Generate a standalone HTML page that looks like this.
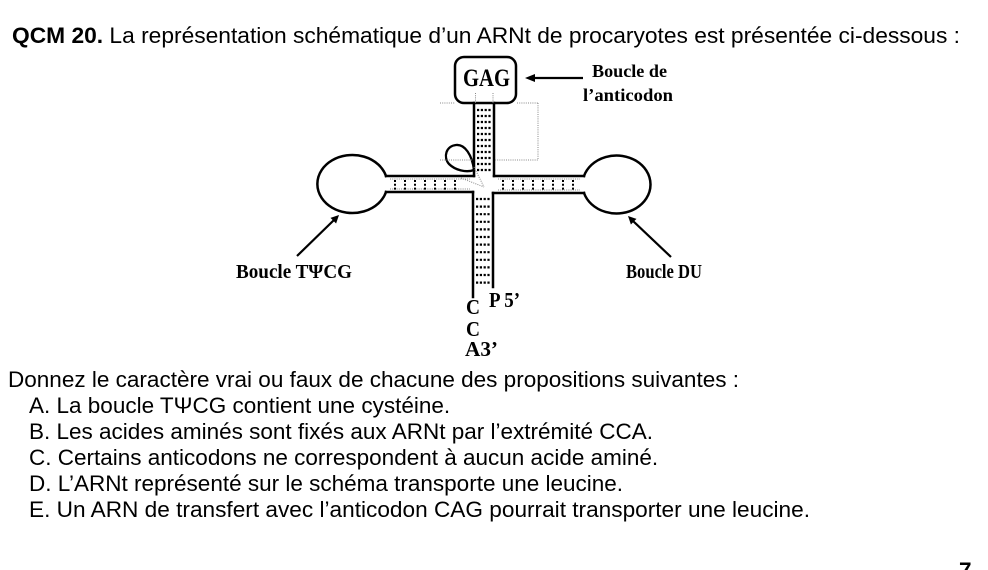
<!DOCTYPE html>
<html>
<head>
<meta charset="utf-8">
<style>
  html, body { margin:0; padding:0; background:#fff; }
  svg { display:block; }
  .sans { font-family: "Liberation Sans", Arial, sans-serif; font-size:22.5px; fill:#000; }
  .serif { font-family: "Liberation Serif", "Times New Roman", serif; font-weight:bold; fill:#000; }
</style>
</head>
<body>
<svg width="988" height="570" viewBox="0 0 988 570" xmlns="http://www.w3.org/2000/svg">
  <rect x="0" y="0" width="988" height="570" fill="#fff"/>

  <!-- Title line -->
  <text class="sans" x="12" y="43" textLength="948" lengthAdjust="spacingAndGlyphs"><tspan font-weight="bold">QCM 20.</tspan> La représentation schématique d’un ARNt de procaryotes est présentée ci-dessous :</text>

  <!-- ===== Diagram ===== -->
  <g fill="none" stroke="#000" stroke-width="2.5" stroke-linecap="square">
    <!-- anticodon loop box -->
    <rect x="455" y="57" width="61" height="46" rx="9" ry="9" fill="#fff"/>
    <!-- upper stem -->
    <line x1="474" y1="103" x2="474" y2="176"/>
    <line x1="494" y1="103" x2="494" y2="176"/>
    <!-- left arm -->
    <line x1="386" y1="176" x2="474" y2="176"/>
    <line x1="386" y1="192" x2="473" y2="192"/>
    <!-- right arm -->
    <line x1="494" y1="176" x2="584" y2="176"/>
    <line x1="493" y1="193" x2="584" y2="193"/>
    <!-- lower stem -->
    <line x1="473" y1="192" x2="473" y2="297"/>
    <line x1="493" y1="193" x2="493" y2="287"/>
    <!-- left loop -->
    <path d="M386 176 A35 29 0 1 0 386 192"/>
    <!-- right loop -->
    <path d="M584 176 A34 29 0 1 1 584 193"/>
    <!-- variable loop -->
    <path d="M474 170 C472 155 465 144 456 145 C446 146 443 157 449 164 C455 170 466 173 474 170" stroke-width="2.3"/>
  </g>

  <!-- gray dotted guide lines -->
  <g fill="none" stroke="#888" stroke-width="1" stroke-dasharray="1 1.2">
    <line x1="440" y1="103" x2="455" y2="103"/>
    <line x1="517" y1="103" x2="538" y2="103"/>
    <line x1="538" y1="103" x2="538" y2="160"/>
    <line x1="495" y1="160" x2="538" y2="160"/>
    <line x1="440" y1="160" x2="473" y2="160"/>
    <line x1="475.5" y1="93" x2="475.5" y2="103"/>
    <line x1="493" y1="93" x2="493" y2="103"/>
    <line x1="461" y1="178" x2="484" y2="187"/>
    <line x1="474" y1="167" x2="484" y2="187"/>
    <line x1="390" y1="179" x2="470" y2="179"/>
    <line x1="390" y1="189" x2="470" y2="189"/>
    <line x1="498" y1="179" x2="580" y2="179"/>
    <line x1="498" y1="190" x2="580" y2="190"/>
  </g>

  <!-- base pair dots: upper stem rows -->
  <g stroke="#000" stroke-width="2.2" stroke-dasharray="2.2 1.6">
    <line x1="477" y1="110" x2="492" y2="110"/>
    <line x1="477" y1="116" x2="492" y2="116"/>
    <line x1="477" y1="122" x2="492" y2="122"/>
    <line x1="477" y1="128" x2="492" y2="128"/>
    <line x1="477" y1="134" x2="492" y2="134"/>
    <line x1="477" y1="140" x2="492" y2="140"/>
    <line x1="477" y1="146" x2="492" y2="146"/>
    <line x1="477" y1="152" x2="492" y2="152"/>
    <line x1="477" y1="158" x2="492" y2="158"/>
    <line x1="477" y1="164" x2="492" y2="164"/>
    <line x1="477" y1="170" x2="492" y2="170"/>
  </g>
  <!-- lower stem rows -->
  <g stroke="#000" stroke-width="2.2" stroke-dasharray="2.2 1.6">
    <line x1="476" y1="199" x2="491" y2="199"/>
    <line x1="476" y1="206.6" x2="491" y2="206.6"/>
    <line x1="476" y1="214.2" x2="491" y2="214.2"/>
    <line x1="476" y1="221.8" x2="491" y2="221.8"/>
    <line x1="476" y1="229.4" x2="491" y2="229.4"/>
    <line x1="476" y1="237" x2="491" y2="237"/>
    <line x1="476" y1="244.6" x2="491" y2="244.6"/>
    <line x1="476" y1="252.2" x2="491" y2="252.2"/>
    <line x1="476" y1="259.8" x2="491" y2="259.8"/>
    <line x1="476" y1="267.4" x2="491" y2="267.4"/>
    <line x1="476" y1="275" x2="491" y2="275"/>
    <line x1="476" y1="282.6" x2="491" y2="282.6"/>
  </g>
  <!-- arm columns -->
  <g stroke="#000" stroke-width="2" stroke-dasharray="2 1.8">
    <line x1="395" y1="180" x2="395" y2="190"/>
    <line x1="405" y1="180" x2="405" y2="190"/>
    <line x1="415" y1="180" x2="415" y2="190"/>
    <line x1="425" y1="180" x2="425" y2="190"/>
    <line x1="435" y1="180" x2="435" y2="190"/>
    <line x1="445" y1="180" x2="445" y2="190"/>
    <line x1="455" y1="180" x2="455" y2="190"/>
    <line x1="503" y1="180" x2="503" y2="190"/>
    <line x1="513" y1="180" x2="513" y2="190"/>
    <line x1="523" y1="180" x2="523" y2="190"/>
    <line x1="533" y1="180" x2="533" y2="190"/>
    <line x1="543" y1="180" x2="543" y2="190"/>
    <line x1="553" y1="180" x2="553" y2="190"/>
    <line x1="563" y1="180" x2="563" y2="190"/>
    <line x1="573" y1="180" x2="573" y2="190"/>
  </g>

  <!-- arrows -->
  <g stroke="#000" stroke-width="2.2">
    <line x1="534" y1="78" x2="583" y2="78"/>
    <line x1="297" y1="256" x2="334" y2="220"/>
    <line x1="671" y1="257" x2="633" y2="221"/>
  </g>
  <g fill="#000">
    <polygon points="525,78 535,74 535,82"/>
    <polygon points="339,215 336.1,223.5 330.5,217.9"/>
    <polygon points="628,216 636.5,218.9 630.9,224.5"/>
  </g>

  <!-- diagram labels -->
  <text class="serif" x="463" y="86" font-size="25" textLength="47" lengthAdjust="spacingAndGlyphs">GAG</text>
  <text class="serif" x="592" y="77" font-size="18" textLength="75" lengthAdjust="spacingAndGlyphs">Boucle de</text>
  <text class="serif" x="583" y="101" font-size="18" textLength="90" lengthAdjust="spacingAndGlyphs">l’anticodon</text>
  <text class="serif" x="236" y="278" font-size="20" textLength="116" lengthAdjust="spacingAndGlyphs">Boucle TΨCG</text>
  <text class="serif" x="626" y="278" font-size="20" textLength="76" lengthAdjust="spacingAndGlyphs">Boucle DU</text>
  <text class="serif" x="466" y="314" font-size="21" textLength="14" lengthAdjust="spacingAndGlyphs">C</text>
  <text class="serif" x="489" y="307" font-size="21" textLength="31" lengthAdjust="spacingAndGlyphs">P 5’</text>
  <text class="serif" x="466" y="336" font-size="21" textLength="14" lengthAdjust="spacingAndGlyphs">C</text>
  <text class="serif" x="465" y="356" font-size="21" textLength="33" lengthAdjust="spacingAndGlyphs">A3’</text>

  <!-- questions -->
  <text class="sans" x="8" y="387" textLength="731" lengthAdjust="spacingAndGlyphs">Donnez le caractère vrai ou faux de chacune des propositions suivantes :</text>
  <text class="sans" x="29" y="413">A. La boucle TΨCG contient une cystéine.</text>
  <text class="sans" x="29" y="439">B. Les acides aminés sont fixés aux ARNt par l’extrémité CCA.</text>
  <text class="sans" x="29" y="465">C. Certains anticodons ne correspondent à aucun acide aminé.</text>
  <text class="sans" x="29" y="491">D. L’ARNt représenté sur le schéma transporte une leucine.</text>
  <text class="sans" x="29" y="517" textLength="781" lengthAdjust="spacingAndGlyphs">E. Un ARN de transfert avec l’anticodon CAG pourrait transporter une leucine.</text>

  <text class="sans" x="959" y="578" font-weight="bold">7</text>
</svg>
</body>
</html>
